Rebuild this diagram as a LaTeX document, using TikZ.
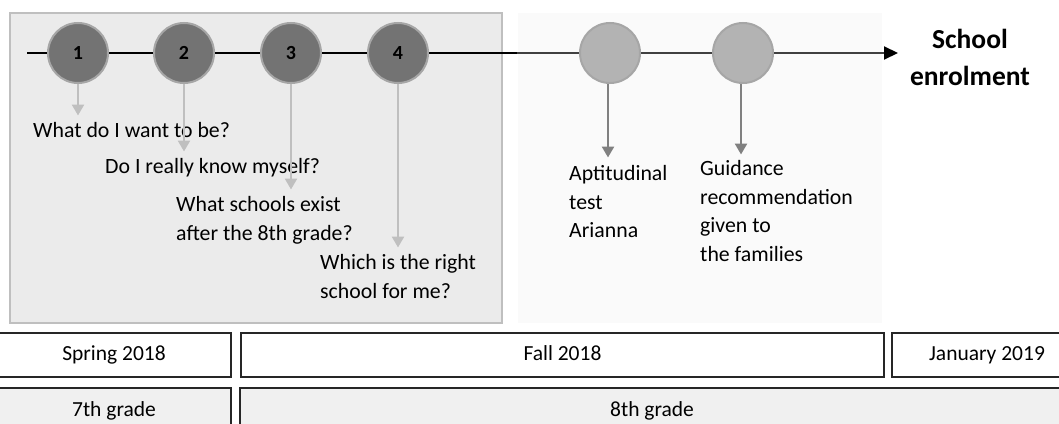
\documentclass[tikz,border=0pt]{standalone}
\usepackage{fontspec}
\setmainfont{Carlito}
\usetikzlibrary{positioning,arrows.meta}
\definecolor{stageDark}{HTML}{737373}
\definecolor{stageLight}{HTML}{B3B3B3}
\definecolor{stageRim}{HTML}{A6A6A6}
\definecolor{arrLight}{HTML}{BFBFBF}
\definecolor{arrDark}{HTML}{808080}
\definecolor{panelFill}{HTML}{EBEBEB}
\definecolor{panelRim}{HTML}{BFBFBF}
\definecolor{faintFill}{HTML}{FAFAFA}
\definecolor{rowFill}{HTML}{F0F0F0}
\definecolor{lineDark}{HTML}{404040}
\begin{document}
\begin{tikzpicture}[
    x=1pt, y=-1pt,
    stage/.style={circle, draw=stageRim, line width=2pt, fill=#1, minimum size=60pt, inner sep=0pt, font=\fontsize{20}{20}\selectfont\bfseries},
    note/.style={anchor=north west, inner sep=0pt, align=left, font=\fontsize{21.8}{28.5}\selectfont},
    cell/.style={draw=black!85, line width=2pt, fill=#1, minimum height=44pt, inner sep=0pt, text height=14pt, text depth=4pt, font=\fontsize{21.5}{21.5}\selectfont},
    arr/.style={-{Triangle[length=11pt,width=12pt]}, line width=2.5pt, draw=#1}
]
\useasboundingbox (0,0) rectangle (1059,423);

% panels behind the timeline
\fill[faintFill] (518,13) rectangle (882,323);
\draw[panelRim, fill=panelFill, line width=2pt] (10,13) rectangle (502,323);

% stages on the timeline
\node[stage=stageDark] (c1) at (78,53) {1};
\node[stage=stageDark] (c2) at (184,53) {2};
\node[stage=stageDark] (c3) at (291,53) {3};
\node[stage=stageDark] (c4) at (398,53) {4};
\node[stage=stageLight] (c5) at (610,53) {};
\node[stage=stageLight] (c6) at (743,53) {};

\coordinate (lineStart) at (27,53);
\coordinate (lineBreak) at (517,53);
\coordinate (lineEnd) at (898,53);

\draw[line width=2.5pt] (lineStart) -- (c1) -- (c2) -- (c3) -- (c4) -- (lineBreak);
\draw[lineDark, line width=2pt, -{Triangle[length=14pt,width=13pt,color=black]}] (lineBreak) -- (c5) -- (c6) -- (lineEnd);

\node[font=\fontsize{27.5}{37}\selectfont\bfseries, align=center, anchor=north, inner sep=0pt] (enrol) at (970,29) {School\\enrolment};

% questions and steps
\node[note] (q1) at (33,122.5) {What do I want to be?};
\node[note] (q2) at (105,158.5) {Do I really know myself?};
\node[note] (q3) at (176,196.5) {What schools exist\\after the 8th grade?};
\node[note] (q4) at (320,254.5) {Which is the right\\school for me?};
\node[note] (t5) at (569,165.5) {Aptitudinal\\test\\Arianna};
\node[note] (t6) at (700,160.5) {Guidance\\recommendation\\given to\\the families};

\draw[arr=arrLight] (c1) -- ([yshift=7pt]c1 |- q1.north);
\draw[arr=arrLight] (c2) -- ([yshift=7pt]c2 |- q2.north);
\draw[arr=arrLight] (c3) -- ([yshift=7pt]c3 |- q3.north);
\draw[arr=arrLight] (c4) -- ([yshift=7pt]c4 |- q4.north);
\draw[arr=arrDark] ([xshift=-2pt]c5.south) -- ([xshift=-2pt,yshift=8pt]c5 |- t5.north);
\draw[arr=arrDark] ([xshift=-2pt]c6.south) -- ([xshift=-2pt,yshift=6pt]c6 |- t6.north);

% calendar rows
\node[cell=white, minimum width=234pt] (spring) at (114,355) {Spring 2018};
\node[cell=white, minimum width=643pt, right=8pt of spring] (fall) {Fall 2018};
\node[cell=white, minimum width=190pt, right=6pt of fall] (jan) {January 2019};
\node[cell=rowFill, minimum width=233pt, minimum height=46pt, below=9pt of spring] (seventh) {7th grade};
\node[cell=rowFill, minimum width=825pt, minimum height=46pt, right=7pt of seventh] (eighth) {8th grade};
\end{tikzpicture}
\end{document}
